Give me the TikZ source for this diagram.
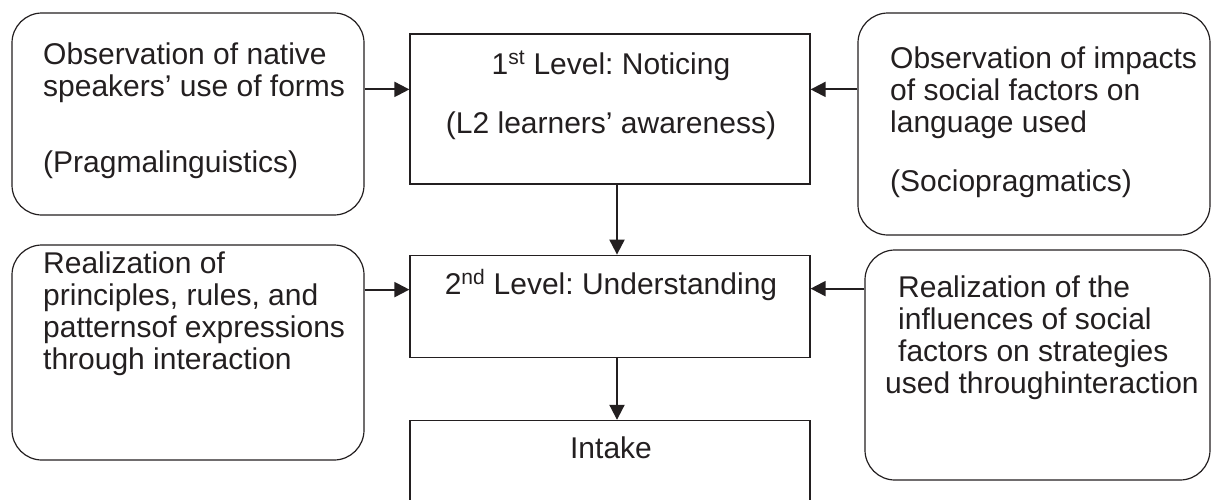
\documentclass[tikz,border=0pt]{standalone}
\usepackage{fontspec}
\setmainfont{Liberation Sans}
\usetikzlibrary{positioning, arrows.meta}
\definecolor{ink}{RGB}{35,31,32}
\frenchspacing

\begin{document}
\begin{tikzpicture}[x=1pt, y=-1pt,
        level/.style={rectangle, draw=ink, line width=1.2pt, inner sep=0pt, minimum width=400pt},
        source/.style={rectangle, draw=ink, line width=1.2pt, rounded corners=30pt, inner sep=0pt},
        txt/.style={inner sep=0pt, text=ink, font=\fontsize{30}{31.7}\selectfont},
        link/.style={draw=ink, -{Triangle[length=15pt, width=15pt]}, line width=2pt}
        ]
        \clip (0,0) rectangle (1211,499);

        % Centre column
        \node[level, minimum height=150pt] (noticing) at (610,109) {};
        \node[level, minimum height=102pt, below=70pt of noticing] (understanding) {};
        \node[level, minimum height=130pt, below=62pt of understanding] (intake) {};

        \node[txt, anchor=base] (noticingtext) at (611,74) {1\textsuperscript{st} Level: Noticing};
        \node[txt, anchor=base] (awarenesstext) at (611,133) {(L2 learners’ awareness)};
        \node[txt, anchor=base] (understandingtext) at (611,294) {2\textsuperscript{nd} Level: Understanding};
        \node[txt, anchor=base] (intaketext) at (611,458) {Intake};

        % Side boxes
        \node[source, minimum width=352pt, minimum height=202pt] (obsL) at (188,114) {};
        \node[source, minimum width=352pt, minimum height=222pt] (obsR) at (1034,124) {};
        \node[source, minimum width=352pt, minimum height=215pt] (realL) at (188,352.5) {};
        \node[source, minimum width=345pt, minimum height=230pt] (realR) at (1037.5,365) {};

        \node[txt, anchor=north west, align=left] (obsLtext) at (43,43) {Observation of native\\ speakers’ use of forms\\[44pt] (Pragmalinguistics)};
        \node[txt, anchor=north west, align=left] (obsRtext) at (890,47) {Observation of impacts\\ of social factors on\\ language used\\[27pt] (Sociopragmatics)};
        \node[txt, anchor=north west, align=left] (realLtext) at (43,252) {Realization of\\ principles, rules, and\\ patternsof expressions\\ through interaction};
        \node[txt, anchor=north west, align=left] (realRtext) at (885,276) {\hspace*{13pt}Realization of the\\ \hspace*{13pt}influences of social\\ \hspace*{13pt}factors on strategies\\ used throughinteraction};

        % Links
        \coordinate (inA) at ([yshift=-56pt]noticing.north west);
        \coordinate (inB) at ([yshift=-56pt]noticing.north east);
        \coordinate (inC) at ([yshift=-35pt]understanding.north west);
        \coordinate (inD) at ([yshift=-34pt]understanding.north east);
        \draw[link] (obsL.east |- inA) -- (inA);
        \draw[link] (obsR.west |- inB) -- (inB);
        \draw[link] (realL.east |- inC) -- (inC);
        \draw[link] (realR.west |- inD) -- (inD);
        \draw[link] ([xshift=7pt]noticing.south) -- ([xshift=7pt]understanding.north);
        \draw[link] ([xshift=7pt]understanding.south) -- ([xshift=7pt]intake.north);

    \end{tikzpicture}
\end{document}
